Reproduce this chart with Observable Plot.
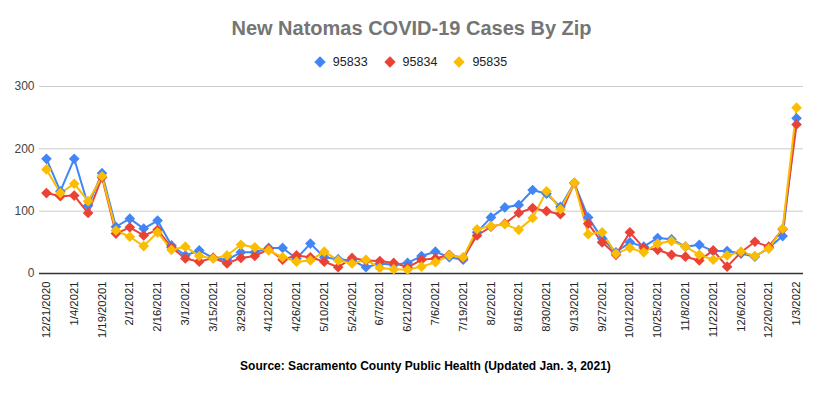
<!DOCTYPE html>
<html>
<head>
<meta charset="utf-8">
<script src="https://cdn.jsdelivr.net/npm/d3@7"></script>
<script src="https://cdn.jsdelivr.net/npm/@observablehq/plot@0.6"></script>
<style>
  body { margin: 0; background: #fff; font-family: Arial, "Liberation Sans", sans-serif; }
  #wrap { position: relative; width: 823px; height: 395px; overflow: hidden; }
  #title { position: absolute; left: 0; width: 823px; top: 17px; text-align: center; font-weight: bold; font-size: 20px; color: #757575; }
  #legend { position: absolute; left: 0; width: 823px; top: 55px; display: flex; justify-content: center; gap: 0; font-size: 12.5px; color: #222; }
  .item { display: flex; align-items: center; margin: 0 9px; }
  .sw { width: 8px; height: 8px; transform: rotate(45deg); margin-right: 9px; }
  #chart { position: absolute; left: 0; top: 75px; }
  #caption { position: absolute; left: 14px; width: 823px; top: 359px; text-align: center; font-weight: bold; font-size: 12px; color: #000; }
</style>
</head>
<body>
<div id="wrap">
  <div id="title">New Natomas COVID-19 Cases By Zip</div>
  <div id="legend"></div>
  <div id="chart"></div>
  <div id="caption">Source: Sacramento County Public Health (Updated Jan. 3, 2021)</div>
</div>
<script>
const dates = ["12/21/2020","12/28/2020","1/4/2021","1/11/2021","1/19/20201","1/25/2021","2/1/2021","2/8/2021","2/16/2021","2/22/2021",
  "3/1/2021","3/8/2021","3/15/2021","3/22/2021","3/29/2021","4/5/2021","4/12/2021","4/19/2021","4/26/2021","5/3/2021",
  "5/10/2021","5/17/2021","5/24/2021","6/1/2021","6/7/2021","6/14/2021","6/21/2021","6/28/2021","7/6/2021","7/12/2021",
  "7/19/2021","7/26/2021","8/2/2021","8/9/2021","8/16/2021","8/23/2021","8/30/2021","9/7/2021","9/13/2021","9/20/2021",
  "9/27/2021","10/4/2021","10/12/2021","10/18/2021","10/25/2021","11/1/2021","11/8/2021","11/15/2021","11/22/2021","11/29/2021",
  "12/6/2021","12/13/2021","12/20/2021","12/27/2021","1/3/2022"];
const s95833 = [184,132,184,109,161,75,88,72,85,45, 29,37,25,22,34,34,41,41,24,48, 26,23,21,10,16,14,17,28,35,26,
  22,66,90,106,110,134,128,107,145,90, 56,34,50,43,57,55,43,46,36,36, 32,27,41,60,249];
const s95834 = [129,124,125,97,154,64,74,61,70,42, 24,19,25,16,25,28,39,22,29,26, 19,10,25,21,20,17,10,22,24,30,
  25,61,75,80,97,105,100,95,145,80, 50,30,66,41,38,30,27,21,37,11, 34,51,43,71,239];
const s95835 = [167,129,144,116,156,69,59,44,66,38, 43,28,24,29,46,42,37,26,19,21, 35,21,16,22,9,7,6,11,18,29,
  26,71,76,79,70,89,132,103,145,63, 66,32,41,34,48,52,43,30,22,29, 35,28,40,72,266];
const seriesNames = ["95833","95834","95835"];
const seriesColors = ["#4285F4","#EA4335","#FBBC04"];
const xTickLabels = ["12/21/2020","1/4/2021","1/19/20201","2/1/2021","2/16/2021","3/1/2021","3/15/2021","3/29/2021","4/12/2021","4/26/2021",
  "5/10/2021","5/24/2021","6/7/2021","6/21/2021","7/6/2021","7/19/2021","8/2/2021","8/16/2021","8/30/2021","9/13/2021",
  "9/27/2021","10/12/2021","10/25/2021","11/8/2021","11/22/2021","12/6/2021","12/20/2021","1/3/2022"];
const yTicks = [0,100,200,300];

const allSeries = [s95833, s95834, s95835];
const rows = [];
allSeries.forEach((vals, k) => vals.forEach((v, i) => rows.push({date: dates[i], value: v, series: seriesNames[k]})));

// legend
const leg = document.getElementById("legend");
seriesNames.forEach((n, k) => {
  const it = document.createElement("div"); it.className = "item";
  const sw = document.createElement("div"); sw.className = "sw"; sw.style.background = seriesColors[k];
  const t = document.createElement("span"); t.textContent = n;
  it.appendChild(sw); it.appendChild(t); leg.appendChild(it);
});

const chart = Plot.plot({
  width: 823,
  height: 275,
  marginLeft: 39,
  marginRight: 20,
  marginTop: 11,
  marginBottom: 77,
  style: {fontFamily: "Arial, 'Liberation Sans', sans-serif", fontSize: "12px", color: "#444", background: "transparent"},
  x: {type: "point", domain: dates, padding: 0.5, ticks: xTickLabels, tickRotate: -90, tickSize: 0, tickPadding: 8, label: null},
  y: {domain: [0, 300], ticks: yTicks, tickSize: 0, tickPadding: 5, label: null},
  color: {domain: seriesNames, range: seriesColors},
  marks: [
    Plot.ruleY(yTicks.filter(d => d > 0), {stroke: "#cccccc", strokeWidth: 1}),
    Plot.ruleY([0], {stroke: "#333333", strokeWidth: 1.5}),
    Plot.line(rows, {x: "date", y: "value", z: "series", stroke: "series", strokeWidth: 2}),
    Plot.dot(rows, {x: "date", y: "value", fill: "series", symbol: "diamond2", r: 4.8, stroke: "none"})
  ]
});
document.getElementById("chart").appendChild(chart);
chart.querySelectorAll('[aria-label^="x-axis"]').forEach(g => { g.setAttribute("font-size", "11.3"); g.setAttribute("fill", "#222"); });
chart.querySelectorAll('[aria-label^="y-axis"]').forEach(g => { g.setAttribute("font-size", "12"); g.setAttribute("fill", "#444"); });
</script>
</body>
</html>
